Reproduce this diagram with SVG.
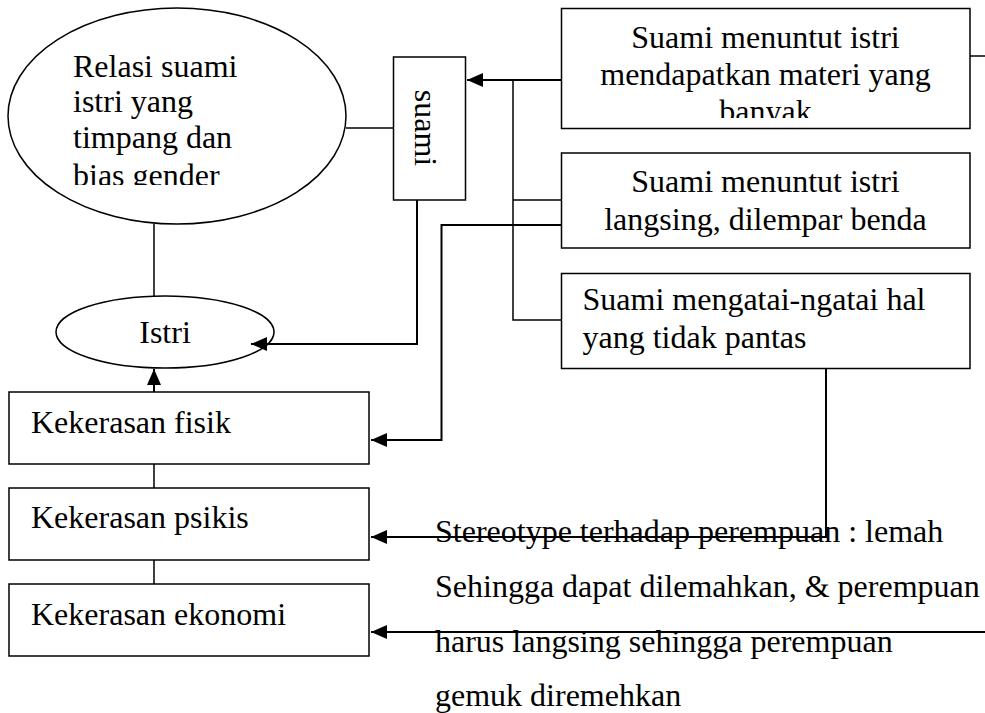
<svg xmlns="http://www.w3.org/2000/svg" width="985" height="713" viewBox="0 0 985 713">
<style>
.s{fill:#fff;stroke:#000;stroke-width:1.5}
.t{font-family:"Liberation Serif","Times New Roman",serif;font-size:32px;fill:#000}
.c{text-anchor:middle}
.l{fill:none;stroke:#000;stroke-width:1.5}
.a{fill:none;stroke:#000;stroke-width:2;marker-end:url(#ah)}
</style>
<defs>
<marker id="ah" markerUnits="userSpaceOnUse" markerWidth="17" markerHeight="14" refX="16" refY="7" orient="auto">
<path d="M0,0 L16,7 L0,14 z" fill="#000"/>
</marker>
<clipPath id="cpRel"><rect x="60" y="40" width="200" height="145"/></clipPath>
<clipPath id="cpB1"><rect x="562" y="9" width="408" height="109"/></clipPath>
</defs>
<rect width="985" height="713" fill="#fff"/>
<g id="relasi">
<ellipse class="s" cx="177" cy="116" rx="169" ry="108"/>
<g clip-path="url(#cpRel)">
<text class="t" x="73" y="77">Relasi suami</text>
<text class="t" x="73" y="112">istri yang</text>
<text class="t" x="73" y="148">timpang dan</text>
<text class="t" x="73" y="186">bias gender</text>
</g>
</g>
<g id="suami">
<rect class="s" x="393.5" y="57" width="72" height="143"/>
<text class="t c" transform="translate(415 128) rotate(90)">suami</text>
</g>
<g id="istri">
<ellipse class="s" cx="165" cy="332" rx="109" ry="36"/>
<text class="t c" x="165" y="343">Istri</text>
</g>
<g id="fisik">
<rect class="s" x="9" y="392" width="360" height="72"/>
<text class="t" x="31" y="433">Kekerasan fisik</text>
</g>
<g id="psikis">
<rect class="s" x="9" y="488" width="360" height="72"/>
<text class="t" x="31" y="528">Kekerasan psikis</text>
</g>
<g id="ekonomi">
<rect class="s" x="9" y="584" width="360" height="72"/>
<text class="t" x="31" y="625">Kekerasan ekonomi</text>
</g>
<g id="box1">
<rect class="s" x="561.5" y="8.5" width="408.5" height="120"/>
<g clip-path="url(#cpB1)">
<text class="t c" x="765.5" y="48">Suami menuntut istri</text>
<text class="t c" x="765.5" y="85">mendapatkan materi yang</text>
<text class="t c" x="765.5" y="122">banyak</text>
</g>
</g>
<g id="box2">
<rect class="s" x="561.5" y="153" width="408.5" height="95"/>
<text class="t c" x="765.5" y="192">Suami menuntut istri</text>
<text class="t c" x="765.5" y="230">langsing, dilempar benda</text>
</g>
<g id="box3">
<rect class="s" x="561.5" y="273.5" width="408.5" height="95"/>
<text class="t" x="582.5" y="310">Suami mengatai-ngatai hal</text>
<text class="t" x="582.5" y="348">yang tidak pantas</text>
</g>
<g id="stereotype">
<text class="t" x="435" y="542">Stereotype terhadap perempuan : lemah</text>
<text class="t" x="435" y="597">Sehingga dapat dilemahkan, &amp; perempuan</text>
<text class="t" x="435" y="652">harus langsing sehingga perempuan</text>
<text class="t" x="435" y="706">gemuk diremehkan</text>
</g>
<g id="connectors">
<path class="l" d="M346 128 H393"/>
<path class="l" d="M154 224 V296"/>
<path class="a" d="M417 200 V344 H251"/>
<path class="a" d="M154 392 V369"/>
<path class="l" d="M154 464 V488"/>
<path class="l" d="M154 560 V584"/>
<path class="a" d="M561 80 H467"/>
<path class="l" d="M513 80 V320 H561 M513 200 H561"/>
<path class="a" d="M561 225 H441.5 V440 H371"/>
<path class="a" d="M826 368 V537 H371"/>
<path class="a" d="M985 632 H371"/>
<path class="l" d="M970 56 H985"/>
</g>
</svg>
